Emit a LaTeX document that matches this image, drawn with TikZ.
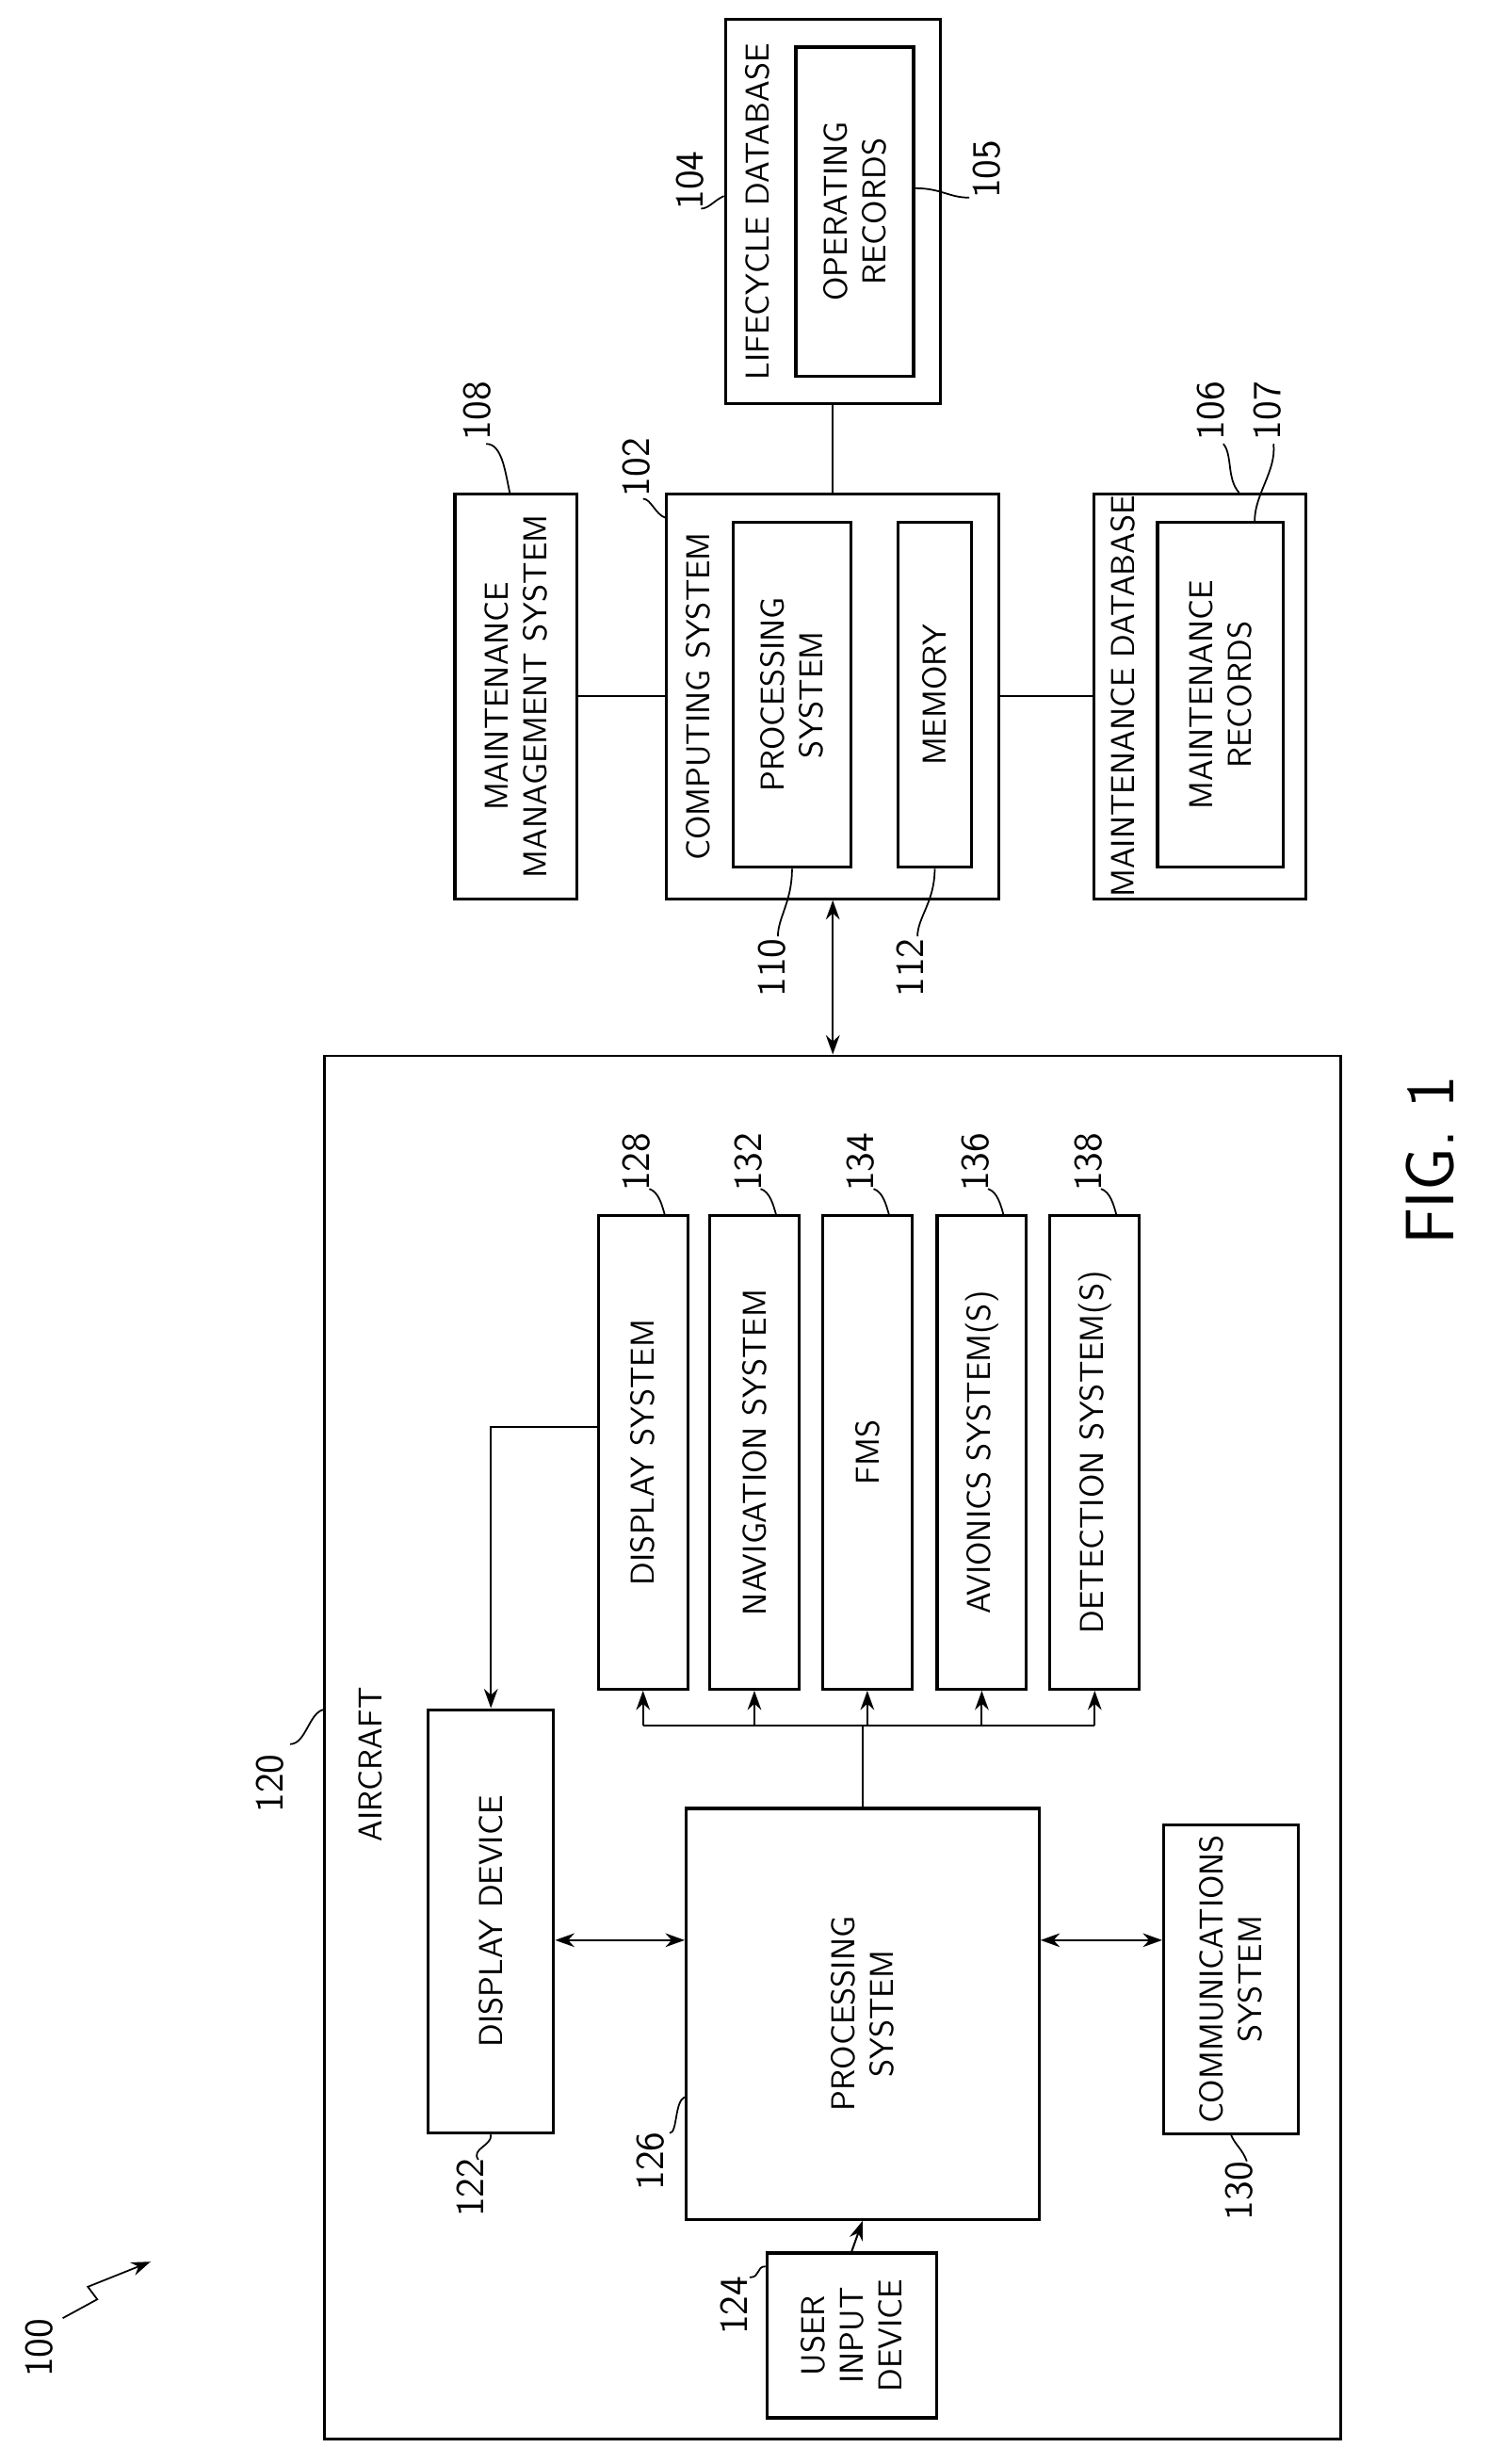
\documentclass[tikz,border=0pt]{standalone}
\usetikzlibrary{arrows.meta}
\tikzset{
  blk/.style={draw, line width=1.1pt, rotate=90, align=center, inner sep=0pt, font=\sffamily\large},
  ttl/.style={rotate=90, font=\sffamily\large, inner sep=0pt},
  num/.style={rotate=90, font=\sffamily\Large, inner sep=0pt},
  lead/.style={line width=0.6pt},
  con/.style={line width=0.7pt},
  tip/.style={-{Stealth[length=7pt,width=5pt]}},
  dtip/.style={{Stealth[length=7pt,width=5pt]}-{Stealth[length=7pt,width=5pt]}}
}
\begin{document}
\begin{tikzpicture}[x=0.02cm, y=-0.02cm]
  \useasboundingbox (0,0) rectangle (960,1571);
  % aircraft side
  \node[blk, line width=0.9pt, minimum width=17.64cm, minimum height=12.96cm] (air) at (531,1114) {};
  \node[ttl] (airt) at (236,1125) {AIRCRAFT};
  \node[blk, minimum width=5.4cm, minimum height=1.6cm] (dispdev) at (313,1225) {DISPLAY DEVICE};
  \node[blk, minimum width=5.24cm, minimum height=4.5cm] (proc) at (550,1284) {PROCESSING\\SYSTEM};
  \node[blk, minimum width=2.1cm, minimum height=2.16cm] (uid) at (543,1489) {USER\\INPUT\\DEVICE};
  \node[blk, minimum width=3.94cm, minimum height=1.72cm] (comm) at (785,1262) {COMMUNICATIONS\\SYSTEM};
  \node[blk, minimum width=6.04cm, minimum height=1.14cm] (dsys) at (410,926) {DISPLAY SYSTEM};
  \node[blk, minimum width=6.04cm, minimum height=1.14cm] (nav) at (481,926) {NAVIGATION SYSTEM};
  \node[blk, minimum width=6.04cm, minimum height=1.14cm] (fms) at (553,926) {FMS};
  \node[blk, minimum width=6.04cm, minimum height=1.14cm] (avi) at (626,926) {AVIONICS SYSTEM(S)};
  \node[blk, minimum width=6.04cm, minimum height=1.14cm] (det) at (698,926) {DETECTION SYSTEM(S)};
  % ground side
  \node[blk, minimum width=5.16cm, minimum height=4.24cm] (comp) at (531,444) {};
  \node[ttl] (compt) at (445,444) {COMPUTING SYSTEM};
  \node[blk, minimum width=4.4cm, minimum height=1.5cm] (cproc) at (505,443) {PROCESSING\\SYSTEM};
  \node[blk, minimum width=4.4cm, minimum height=0.94cm] (mem) at (596,443) {MEMORY};
  \node[blk, minimum width=5.16cm, minimum height=1.56cm] (mms) at (329,444) {MAINTENANCE\\MANAGEMENT SYSTEM};
  \node[blk, minimum width=4.9cm, minimum height=2.74cm] (life) at (531,135) {};
  \node[ttl] (lifet) at (483,135) {LIFECYCLE DATABASE};
  \node[blk, minimum width=4.2cm, minimum height=1.5cm] (oprec) at (545,135) {OPERATING\\RECORDS};
  \node[blk, minimum width=5.16cm, minimum height=2.7cm] (mdb) at (765,444) {};
  \node[ttl] (mdbt) at (716,444) {MAINTENANCE DATABASE};
  \node[blk, minimum width=4.4cm, minimum height=1.6cm] (mrec) at (778,443) {MAINTENANCE\\RECORDS};
  % connectors
  \coordinate (bus) at (0,1100);
  \coordinate (lvl) at (0,1237);
  \coordinate (dl) at (0,910);
  \draw[con, dtip] (dispdev.south |- lvl) -- (proc.north |- lvl);
  \draw[con, dtip] (proc.south |- lvl) -- (comm.north |- lvl);
  \draw[con, tip] (uid.east) -- (proc.west);
  \draw[con] (proc.east) -- (proc.east |- bus);
  \draw[con] (dsys.west |- bus) -- (det.west |- bus);
  \foreach \b in {dsys,nav,fms,avi,det}
    \draw[con, tip] (\b.west |- bus) -- (\b.west);
  \draw[con, tip] (dsys.north |- dl) -| (dispdev.east);
  \draw[con, dtip] (air.east) -- (comp.west);
  \draw[con] (mms) -- (comp);
  \draw[con] (comp) -- (mdb);
  \draw[con] (life) -- (comp);
  % reference numerals
  \node[num] (n100) at (25,1497) {100};
  \draw[lead, tip] (40,1478) -- (62,1466) -- (56,1458) -- (96,1442);
  \node[num] (n120) at (172,1137) {120};
  \draw[lead] (185,1112) .. controls (195,1112) and (197,1092) .. (air.north |- 0,1090);
  \node[num] (n122) at (300,1395) {122};
  \draw[lead] (305,1377) .. controls (300,1370) and (314,1368) .. (dispdev.west);
  \node[num] (n124) at (468,1470) {124};
  \draw[lead] (478,1452) .. controls (485,1452) and (482,1445) .. (uid.north |- 0,1445);
  \node[num] (n126) at (415,1378) {126};
  \draw[lead] (427,1360) .. controls (432,1360) and (430,1340) .. (proc.north |- 0,1337);
  \node[num] (n130) at (790,1397) {130};
  \draw[lead] (795,1378) .. controls (792,1370) and (788,1368) .. (comm.west);
  \foreach \b/\t in {dsys/128,nav/132,fms/134,avi/136,det/138}{
    \node[num] at ([shift={(-4,-185)}]\b.center) {\t};
    \draw[lead] ([shift={(4,-168)}]\b.center) .. controls ([shift={(10,-166)}]\b.center) and ([shift={(12,-158)}]\b.center) .. ([shift={(14,-151)}]\b.center);
  }
  \node[num] (n110) at (492,617) {110};
  \draw[lead] (496,597) .. controls (496,585) and (505,575) .. (cproc.west);
  \node[num] (n112) at (580,617) {112};
  \draw[lead] (585,597) .. controls (585,585) and (596,575) .. (mem.west);
  \node[num] (n102) at (406,298) {102};
  \draw[lead] (410,318) .. controls (415,318) and (418,328) .. (comp.north |- 0,330);
  \node[num] (n108) at (304,262) {108};
  \draw[lead] (310,283) .. controls (320,283) and (322,300) .. (mms.east -| 325,0);
  \node[num] (n104) at (440,115) {104};
  \draw[lead] (447,133) .. controls (452,133) and (455,128) .. (life.north |- 0,125);
  \node[num] (n105) at (629,108) {105};
  \draw[lead] (618,126) .. controls (605,126) and (600,120) .. (oprec.south |- 0,120);
  \node[num] (n106) at (772,262) {106};
  \draw[lead] (780,283) .. controls (786,290) and (782,305) .. (mdb.east -| 790,0);
  \node[num] (n107) at (808,262) {107};
  \draw[lead] (812,283) .. controls (814,300) and (800,315) .. (mrec.east -| 800,0);
  \node[rotate=90, font=\sffamily\Huge] (fig) at (912,740) {FIG. 1};
\end{tikzpicture}
\end{document}
